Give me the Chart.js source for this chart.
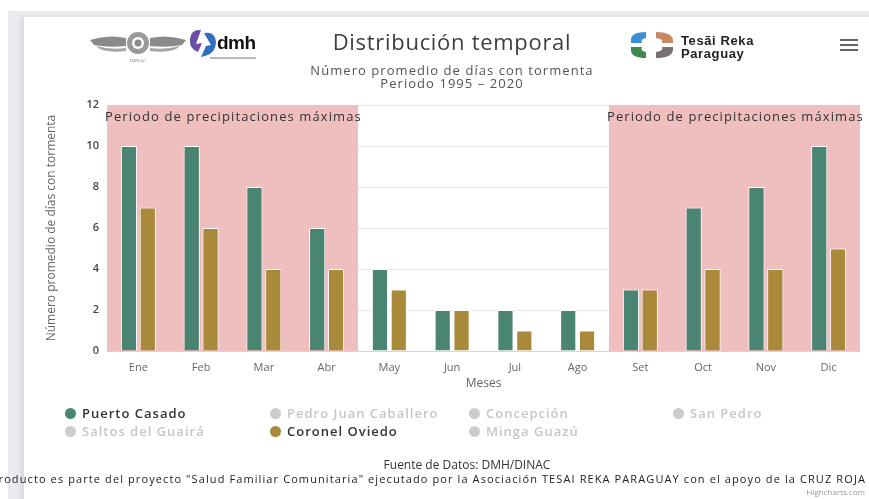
<!DOCTYPE html>
<html>
<head>
<meta charset="utf-8">
<script src="https://cdn.jsdelivr.net/npm/chart.js@4.4.1/dist/chart.umd.min.js"></script>
<style>
  html, body { margin:0; padding:0; width:869px; height:499px; overflow:hidden; background:#fff; font-family:"Open Sans", sans-serif; }
  #frame { position:absolute; left:8px; top:11px; width:900px; height:520px; background:#e9ebee; }
  #card { position:absolute; left:24px; top:17px; width:900px; height:520px; background:#fff; box-shadow:-3px 0 5px rgba(0,0,0,0.08); }
  #wrap { position:absolute; left:0; top:0; width:869px; height:499px; }
  .abs { position:absolute; white-space:nowrap; }
  #title { left:0; width:904px; top:26px; text-align:center; font-size:22px; letter-spacing:0.7px; color:#3f3f3f; }
  #subtitle { left:0; width:904px; top:64px; text-align:center; font-size:13px; line-height:13px; letter-spacing:1.05px; color:#555; }
  .leg { position:absolute; font-size:13px; font-weight:600; letter-spacing:1px; color:#333; }
  .leg .dot { position:absolute; left:-17px; top:4px; width:11px; height:11px; border-radius:50%; }
  .leg.off { color:#c6c6c6; }
  .leg.off .dot { background:#cccccc; }
  #src { left:0; width:934px; top:456px; text-align:center; font-size:12px; color:#333; }
  #proj { right:3px; top:471px; font-size:11px; letter-spacing:1.1px; color:#222; }
  #credit { right:4px; top:486px; font-size:8px; color:#999; }
</style>
</head>
<body>
<div id="frame"></div>
<div id="card"></div>
<div id="wrap"><canvas id="c" width="869" height="499"></canvas></div>

<!-- header logos -->
<svg class="abs" style="left:88px;top:26px" width="100" height="38" viewBox="0 0 100 38">
  <path d="M2 14 Q20 8 38 12 L38 20 Q20 22 6 19 Z" fill="#8a8a8a"/>
  <path d="M98 14 Q80 8 62 12 L62 20 Q80 22 94 19 Z" fill="#8a8a8a"/>
  <path d="M8 20 Q22 24 38 22 L38 25 Q22 27 12 23 Z" fill="#a5a5a5"/>
  <path d="M92 20 Q78 24 62 22 L62 25 Q78 27 88 23 Z" fill="#a5a5a5"/>
  <circle cx="50" cy="17" r="11" fill="#9a9a9a"/>
  <circle cx="50" cy="17" r="6" fill="#fff"/>
  <circle cx="50" cy="17" r="3.5" fill="#8a8a8a"/>
  <text x="50" y="36" font-size="5" text-anchor="middle" fill="#777" font-family="Liberation Serif">DINAC</text>
</svg>
<svg class="abs" style="left:188px;top:27px" width="30" height="32" viewBox="0 0 30 32">
  <path d="M13 3 Q3 2 2 12 Q1 22 10 25 L14 16 L8 17 Z" fill="#6b4fa8"/>
  <path d="M16 6 Q27 4 28 15 Q28 26 17 29 L13 30 L18 19 L23 18 Z" fill="#2f6fc2"/>
</svg>
<div class="abs" style="left:217px;top:32px;font-family:'Liberation Sans',Arial,sans-serif;font-weight:bold;font-size:19px;color:#111;letter-spacing:-0.5px">dmh</div>
<div class="abs" style="left:210px;top:57px;width:46px;height:2px;background:#b8b8c8"></div>

<div class="abs" id="title">Distribución temporal</div>
<div class="abs" id="subtitle">Número promedio de días con tormenta<br>Periodo 1995 – 2020</div>

<svg class="abs" style="left:628px;top:29px" width="50" height="32" viewBox="0 0 50 32">
  <path d="M18 3 Q4 3 3 10 L3 14 L14 14 Q12 10 18 9 Z" fill="#3b8fd6"/>
  <path d="M3 18 L3 22 Q4 29 18 29 L18 23 Q12 22 14 18 Z" fill="#3f8a4c"/>
  <path d="M28 3 Q44 3 45 11 L45 14 L34 14 Q36 10 28 9 Z" fill="#c98a63"/>
  <path d="M45 18 L45 21 Q44 29 28 29 L28 23 Q36 22 34 18 Z" fill="#7a7272"/>
</svg>
<div class="abs" style="left:681px;top:34px;font-family:'Liberation Sans',Arial,sans-serif;font-weight:bold;font-size:13px;line-height:13px;letter-spacing:0.6px;color:#222">Tesãi Reka<br>Paraguay</div>

<div class="abs" style="left:840px;top:39px;width:18px;height:2px;background:#666"></div>
<div class="abs" style="left:840px;top:44px;width:18px;height:2px;background:#666"></div>
<div class="abs" style="left:840px;top:49px;width:18px;height:2px;background:#666"></div>

<div id="legend"></div>

<div class="abs" id="src">Fuente de Datos: DMH/DINAC</div>
<div class="abs" id="proj">Este producto es parte del proyecto "Salud Familiar Comunitaria" ejecutado por la Asociación TESAI REKA PARAGUAY con el apoyo de la CRUZ ROJA</div>
<div class="abs" id="credit">Highcharts.com</div>

<script>
// ---- data ----
const months = ['Ene','Feb','Mar','Abr','May','Jun','Jul','Ago','Set','Oct','Nov','Dic'];
const puertoCasado = [10,10,8,6,4,2,2,2,3,7,8,10];
const coronelOviedo = [7,6,4,4,3,2,1,1,3,4,4,5];
const yTicks = [0,2,4,6,8,10,12];
const legendNames = ['Puerto Casado','Pedro Juan Caballero','Concepción','San Pedro','Saltos del Guairá','Coronel Oviedo','Minga Guazú'];
const legendVisible = [true,false,false,false,false,true,false];
const bandRanges = [[0,3],[8,11]];
const bandLabel = 'Periodo de precipitaciones máximas';

const GREEN = '#4a8574', GOLD = '#a98a3b', PINK = '#efbfbf';

// legend (HTML)
const legPos = [[82,404],[287,404],[486,404],[690,404],[82,422],[287,422],[486,422]];
const legColors = {'Puerto Casado':GREEN,'Coronel Oviedo':GOLD};
const legDiv = document.getElementById('legend');
legendNames.forEach((n,i)=>{
  const d = document.createElement('div');
  d.className = 'leg' + (legendVisible[i] ? '' : ' off');
  d.style.left = legPos[i][0]+'px'; d.style.top = legPos[i][1]+'px';
  const dot = document.createElement('span'); dot.className='dot';
  if (legendVisible[i]) dot.style.background = legColors[n];
  d.appendChild(dot);
  d.appendChild(document.createTextNode(n));
  legDiv.appendChild(d);
});

const bandsPlugin = {
  id:'bands',
  beforeDatasetsDraw(chart){
    const {ctx, chartArea:a, scales:{x}} = chart;
    const step = x.getPixelForValue(1) - x.getPixelForValue(0);
    ctx.save();
    bandRanges.forEach(([s,e])=>{
      const l = x.getPixelForValue(s) - step/2;
      const r = x.getPixelForValue(e) + step/2;
      ctx.fillStyle = PINK;
      ctx.fillRect(l, a.top, r-l, a.bottom-a.top);
      ctx.fillStyle = '#333';
      ctx.font = '13px "Open Sans"';
      ctx.letterSpacing = '1.1px';
      ctx.textBaseline = 'middle';
      ctx.textAlign = 'left';
      ctx.fillText(bandLabel, l-2, a.top+12);
    });
    ctx.restore();
  }
};

new Chart(document.getElementById('c'), {
  type:'bar',
  data:{
    labels: months,
    datasets:[
      {label:'Puerto Casado', data:puertoCasado, backgroundColor:GREEN, borderColor:'#fff', borderWidth:1, categoryPercentage:0.6, barPercentage:0.86},
      {label:'Coronel Oviedo', data:coronelOviedo, backgroundColor:GOLD, borderColor:'#fff', borderWidth:1, categoryPercentage:0.6, barPercentage:0.86}
    ]
  },
  options:{
    responsive:false, animation:false,
    layout:{padding:{top:105, left:40, right:9, bottom:104}},
    plugins:{legend:{display:false}, tooltip:{enabled:false}, title:{display:false}},
    scales:{
      x:{
        afterFit(s){ s.height = 44; },
        grid:{display:false, drawTicks:false},
        border:{display:true, color:'#ccd6eb'},
        ticks:{color:'#666', font:{family:'Open Sans', size:11}, padding:10},
        title:{display:true, text:'Meses', color:'#666', font:{family:'Open Sans', size:12}, padding:{top:3, bottom:4}}
      },
      y:{
        min:0, max:12,
        afterBuildTicks(s){ s.ticks = yTicks.map(v=>({value:v})); },
        afterFit(s){ s.width = 107-40; },
        grid:{color:'#e6e6e6', drawTicks:false},
        border:{display:false},
        ticks:{color:'#444', font:{family:'Open Sans', size:11, weight:'600'}, padding:8},
        title:{display:true, text:'Número promedio de días con tormenta', color:'#666', font:{family:'Open Sans', size:12}}
      }
    }
  },
  plugins:[bandsPlugin]
});
</script>
</body>
</html>
